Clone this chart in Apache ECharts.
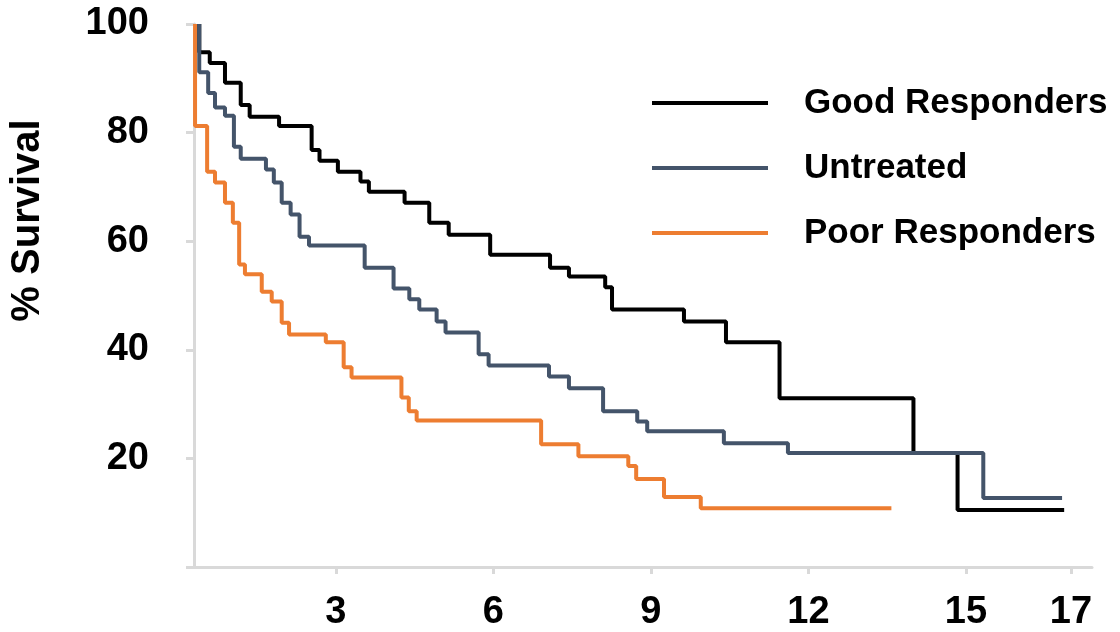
<!DOCTYPE html>
<html>
<head>
<meta charset="utf-8">
<script src="https://cdn.jsdelivr.net/npm/echarts@6/dist/echarts.min.js"></script>
<style>
html,body{margin:0;padding:0;background:#fff;}
#c{width:1120px;height:632px;}
</style>
</head>
<body>
<div id="c"></div>
<script>
// Survival curves (time, % survival)
var goodTimes = [0.40, 0.40, 0.60, 0.89, 1.19, 1.36, 1.92, 2.54, 2.69, 3.04, 3.47, 3.63, 4.31, 4.78, 5.15, 5.94, 7.08, 7.44, 8.13, 8.26, 9.63, 10.43, 11.45, 14.00, 14.84, 16.87];
var goodSurv  = [100, 94.8, 92.8, 89.2, 85.1, 82.9, 81.2, 76.8, 74.8, 72.8, 71.0, 69.1, 67.1, 63.4, 61.2, 57.5, 55.1, 53.5, 51.5, 47.4, 45.2, 41.4, 31.1, 21.0, 10.5, 10.5];

var untreatedTimes = [0.40, 0.40, 0.57, 0.70, 0.89, 1.06, 1.19, 1.67, 1.82, 1.97, 2.14, 2.31, 2.49, 3.55, 4.10, 4.40, 4.59, 4.92, 5.09, 5.72, 5.91, 7.06, 7.44, 8.09, 8.74, 8.93, 10.39, 11.61, 15.33, 16.83];
var untreatedSurv  = [100, 91.1, 87.3, 84.6, 83.1, 77.4, 75.2, 73.2, 70.8, 67.1, 64.9, 60.8, 59.2, 55.1, 51.3, 49.3, 47.4, 45.2, 43.2, 39.2, 37.1, 35.1, 32.9, 28.7, 26.8, 25.0, 22.8, 21.0, 12.7, 12.7];

var poorTimes = [0.32, 0.32, 0.55, 0.70, 0.89, 1.04, 1.16, 1.27, 1.59, 1.78, 1.97, 2.11, 2.81, 3.15, 3.30, 4.25, 4.39, 4.54, 6.91, 7.62, 8.57, 8.72, 9.25, 9.95, 13.58];
var poorSurv  = [100, 81.2, 72.8, 70.8, 67.1, 63.4, 55.7, 53.9, 50.7, 48.9, 45.0, 42.8, 41.4, 36.8, 34.9, 31.2, 28.7, 27.0, 22.6, 20.4, 18.6, 16.2, 12.9, 10.8, 10.8];

var seriesNames = ['Good Responders', 'Untreated', 'Poor Responders'];
var xTickLabels = [3, 6, 9, 12, 15, 17];
var yTickLabels = [20, 40, 60, 80, 100];

function pairs(t, s) { return t.map(function (v, i) { return [v, s[i]]; }); }

var FONT = 'Liberation Sans';
var chart = echarts.init(document.getElementById('c'), null, {renderer: 'canvas'});
var axisGray = '#D9D9D9';

chart.setOption({
  animation: false,
  backgroundColor: '#ffffff',
  grid: {left: 192, right: 28, top: 24, bottom: 64},
  legend: {
    orient: 'vertical',
    left: 652,
    top: 83,
    padding: 0,
    icon: 'rect',
    itemWidth: 116,
    itemHeight: 4,
    itemGap: 25,
    data: seriesNames,
    textStyle: {fontFamily: FONT, fontWeight: 'bold', fontSize: 35, color: '#000', lineHeight: 40, padding: [0, 0, 0, 31]}
  },
  xAxis: {
    type: 'value',
    min: 0.3,
    max: 17.4,
    splitLine: {show: false},
    axisLine: {show: true, lineStyle: {color: axisGray, width: 3}},
    axisTick: {show: true, length: 7, customValues: xTickLabels, lineStyle: {color: axisGray, width: 3}},
    axisLabel: {customValues: xTickLabels, fontFamily: FONT, fontWeight: 'bold', fontSize: 38, color: '#000', margin: 27}
  },
  yAxis: {
    type: 'value',
    min: 0,
    max: 100,
    interval: 20,
    name: '% Survival',
    nameLocation: 'middle',
    nameRotate: 90,
    nameGap: 146,
    nameTextStyle: {fontFamily: FONT, fontWeight: 'bold', fontSize: 40, color: '#000', padding: [0, 0, 0, 150]},
    splitLine: {show: false},
    axisLine: {show: true, lineStyle: {color: axisGray, width: 3}},
    axisTick: {show: true, length: 8, lineStyle: {color: axisGray, width: 3}},
    axisLabel: {
      fontFamily: FONT, fontWeight: 'bold', fontSize: 38, color: '#000', margin: 45,
      formatter: function (v) { return yTickLabels.indexOf(v) >= 0 ? String(v) : ''; }
    }
  },
  series: [
    {name: seriesNames[0], type: 'line', step: 'end', symbol: 'none', color: '#000000', z: 2,
     lineStyle: {width: 4, color: '#000000'}, data: pairs(goodTimes, goodSurv)},
    {name: seriesNames[1], type: 'line', step: 'end', symbol: 'none', color: '#44546A', z: 4,
     lineStyle: {width: 4, color: '#44546A'}, data: pairs(untreatedTimes, untreatedSurv)},
    {name: seriesNames[2], type: 'line', step: 'end', symbol: 'none', color: '#ED7D31', z: 3,
     lineStyle: {width: 4, color: '#ED7D31'}, data: pairs(poorTimes, poorSurv)}
  ]
});
</script>
</body>
</html>
